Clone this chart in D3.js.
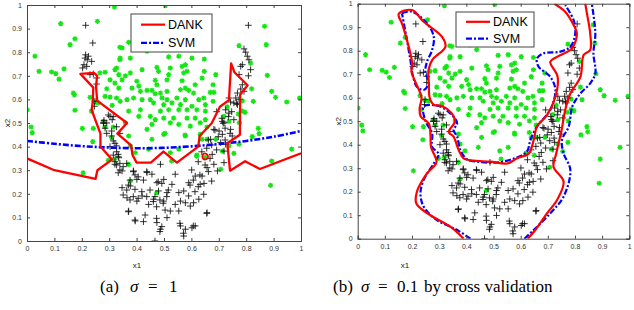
<!DOCTYPE html>
<html>
<head>
<meta charset="utf-8">
<script src="https://cdn.jsdelivr.net/npm/d3@7"></script>
<style>
  body { margin: 0; background: #fff; }
  svg { display: block; }
</style>
</head>
<body>
<div id="vis"></div>
<script>
// canvas size
var width = 634;
var height = 310;

// tick values for both axes
var tickVals = [0, 0.1, 0.2, 0.3, 0.4, 0.5, 0.6, 0.7, 0.8, 0.9, 1];

// class 1 (green asterisks)
var greenPts = [
  [0.505,0.997],[0.371,0.842],[0.347,0.818],[0.414,0.825],[0.438,0.804],[0.34,0.775],[0.377,0.775],[0.517,0.78],
  [0.554,0.783],[0.602,0.775],[0.647,0.771],[0.578,0.747],[0.566,0.74],[0.474,0.736],[0.48,0.719],[0.42,0.726],
  [0.377,0.712],[0.359,0.7],[0.335,0.705],[0.523,0.733],[0.517,0.705],[0.572,0.712],[0.584,0.719],[0.647,0.719],
  [0.639,0.69],[0.614,0.662],[0.566,0.679],[0.511,0.683],[0.468,0.681],[0.474,0.662],[0.401,0.677],[0.408,0.656],
  [0.383,0.648],[0.347,0.683],[0.414,0.634],[0.438,0.638],[0.456,0.638],[0.487,0.627],[0.468,0.624],[0.511,0.634],
  [0.56,0.641],[0.578,0.648],[0.59,0.638],[0.608,0.627],[0.669,0.63],[0.645,0.606],[0.627,0.599],[0.578,0.599],
  [0.547,0.606],[0.511,0.599],[0.493,0.606],[0.45,0.599],[0.42,0.599],[0.389,0.606],[0.365,0.599],[0.34,0.592],
  [0.335,0.648],[0.462,0.585],[0.499,0.578],[0.529,0.585],[0.56,0.578],[0.602,0.571],[0.651,0.578],[0.62,0.556],
  [0.651,0.55],[0.584,0.556],[0.554,0.556],[0.517,0.556],[0.487,0.55],[0.414,0.556],[0.371,0.55],[0.408,0.528],
  [0.45,0.528],[0.468,0.514],[0.499,0.521],[0.535,0.521],[0.584,0.521],[0.614,0.521],[0.651,0.514],
  [0.359,0.501],[0.456,0.494],[0.554,0.494],[0.632,0.501],[0.596,0.487],[0.523,0.501],[0.657,0.483],[0.371,0.445],
  [0.438,0.473],[0.499,0.452],[0.578,0.445],[0.632,0.452],[0.657,0.431],[0.377,0.403],[0.395,0.374],[0.444,0.389],
  [0.523,0.374],[0.554,0.389],[0.62,0.364],[0.639,0.431],[0.456,0.431],[0.377,0.254],[0.474,0.205],[0.371,0.325],
  [0.65,0.355],[0.619,0.36],[0.577,0.449],[0.504,0.456],[0.528,0.339],[0.775,0.501],
  [0.319,0.992],[0.123,0.921],[0.257,0.931],[0.175,0.857],[0.157,0.832],[0.339,0.821],[0.029,0.783],[0.044,0.719],
  [0.09,0.716],[0.105,0.709],[0.117,0.686],[0.135,0.729],[0.339,0.768],[0.327,0.733],[0.321,0.726],[0.285,0.715],
  [0.266,0.712],[0.303,0.683],[0.321,0.669],[0.169,0.627],[0.173,0.62],[0.291,0.645],[0.303,0.61],[0.285,0.613],
  [0.23,0.609],[0.248,0.589],[0.26,0.585],[0.311,0.575],[0.327,0.606],[0.001,0.556],[0.175,0.554],[0.279,0.507],
  [0.235,0.55],
  [0.015,0.483],[0.019,0.459],[0.202,0.477],[0.242,0.477],[0.24,0.421],[0.285,0.483],[0.315,0.483],[0.309,0.438],
  [0.297,0.342],[0.319,0.346],[0.205,0.289],
  [0.867,0.91],[0.774,0.828],[0.873,0.832],[0.816,0.754],[0.689,0.705],[0.877,0.702],[0.679,0.662],[0.682,0.63],
  [0.82,0.645],[0.893,0.634],[0.907,0.609],[0.948,0.589],[0.995,0.606],[0.826,0.592],[0.679,0.592],[0.786,0.594],
  [0.731,0.568],[0.786,0.55],[0.796,0.545],[0.771,0.538],[0.719,0.528],[0.737,0.507],
  [0.844,0.477],[0.847,0.455],[0.822,0.442],[0.774,0.41],[0.737,0.403],[0.755,0.371],[0.713,0.381],[0.707,0.304],
  [0.893,0.339],[0.966,0.389],[0.889,0.236],[0.689,0.431]
];

// class 2 (black plus)
var blackPts = [
  [0.214,0.914],[0.24,0.839],[0.214,0.789],[0.212,0.775],[0.22,0.768],[0.224,0.783],[0.236,0.761],[0.208,0.747],
  [0.218,0.74],[0.203,0.733],[0.242,0.708],[0.23,0.705],[0.254,0.691],[0.254,0.665],[0.248,0.592],[0.246,0.571],
  [0.281,0.511],[0.303,0.528],[0.311,0.514],[0.291,0.5],
  [0.297,0.534],[0.315,0.527],[0.279,0.499],[0.285,0.478],[0.327,0.484],[0.291,0.456],[0.309,0.445],[0.339,0.456],
  [0.321,0.414],[0.303,0.4],[0.327,0.378],[0.315,0.364],[0.333,0.357],[0.321,0.336],[0.339,0.329],[0.327,0.322],
  [0.351,0.315],[0.339,0.301],[0.364,0.329],[0.388,0.294],[0.394,0.28],[0.376,0.258],[0.406,0.272],[0.437,0.294],
  [0.425,0.258],[0.37,0.237],[0.364,0.216],[0.394,0.219],[0.419,0.209],[0.449,0.216],[0.351,0.195],[0.388,0.188],
  [0.376,0.174],[0.406,0.181],[0.437,0.188],[0.467,0.188],[0.485,0.174],[0.461,0.167],[0.497,0.16],[0.473,0.145],
  [0.37,0.124],[0.394,0.089],[0.431,0.11],[0.425,0.082],[0.473,0.096],[0.492,0.061],[0.485,0.04],[0.467,0.0],
  [0.504,0.131],[0.51,0.188],[0.516,0.216],[0.492,0.244],[0.479,0.251],
  [0.335,0.353],[0.389,0.297],[0.438,0.29],[0.456,0.283],[0.487,0.325],[0.541,0.283],[0.59,0.247],[0.614,0.275],
  [0.639,0.275],[0.657,0.311],[0.632,0.24],[0.59,0.191],[0.627,0.177],[0.608,0.162],[0.657,0.12],[0.56,0.169],
  [0.541,0.155],[0.578,0.162],[0.554,0.127],[0.511,0.099],[0.523,0.127],[0.474,0.078],[0.487,0.05],[0.56,0.064],
  [0.578,0.05],[0.614,0.064],[0.602,0.056],[0.572,0.021],[0.395,0.085],[0.371,0.127],[0.401,0.169],[0.444,0.155],
  [0.462,0.177],[0.42,0.191],[0.48,0.212],[0.499,0.169],[0.511,0.205],[0.572,0.212],[0.554,0.205],[0.596,0.148],
  [0.347,0.297],[0.347,0.226],[0.377,0.233],[0.365,0.183],[0.401,0.261],[0.474,0.247],[0.529,0.24],[0.499,0.261],
  [0.645,0.198],
  [0.692,0.548],[0.711,0.52],[0.686,0.47],[0.723,0.478],[0.741,0.456],[0.698,0.442],[0.723,0.428],[0.662,0.428],
  [0.674,0.407],[0.656,0.393],[0.692,0.386],[0.638,0.378],[0.668,0.35],[0.625,0.336],[0.65,0.322],[0.601,0.301],
  [0.662,0.294],[0.631,0.28],[0.607,0.258],[0.646,0.244],[0.625,0.23],[0.595,0.237],[0.613,0.209],[0.656,0.117],
  [0.607,0.064],[0.558,0.075],[0.571,0.033],[0.765,0.583],[0.747,0.548],[0.735,0.527],[0.716,0.499],
  [0.808,0.914],[0.792,0.814],[0.798,0.8],[0.804,0.783],[0.81,0.768],[0.786,0.747],[0.816,0.726],[0.78,0.74],
  [0.808,0.7],[0.774,0.705],[0.786,0.662],[0.78,0.644],[0.768,0.627],[0.792,0.634],[0.737,0.606],[0.774,0.599],
  [0.743,0.589],[0.755,0.585],[0.725,0.556],[0.737,0.542],[0.768,0.578],[0.713,0.507],[0.755,0.514],[0.762,0.606],
  [0.719,0.501],[0.682,0.473],[0.701,0.466],[0.743,0.473],[0.713,0.452],[0.749,0.445],[0.67,0.431],[0.707,0.417],
  [0.725,0.41],[0.719,0.381],[0.676,0.367],[0.682,0.325],[0.719,0.332],[0.695,0.297],[0.674,0.254],
  [0.279,0.501],[0.309,0.466],[0.315,0.424],[0.327,0.403],[0.333,0.367],[0.321,0.325],[0.333,0.289]
];

// (a) sigma = 1 boundaries
var dankA = [
  [0,0.35],[0.1,0.30],[0.25,0.263],[0.257,0.30],[0.31,0.345],[0.268,0.40],[0.268,0.455],[0.236,0.555],
  [0.24,0.59],[0.242,0.65],[0.195,0.708],[0.245,0.712],[0.256,0.70],[0.252,0.655],[0.256,0.595],[0.365,0.50],
  [0.33,0.455],[0.38,0.405],[0.385,0.365],[0.40,0.332],[0.452,0.332],[0.498,0.379],[0.547,0.332],[0.625,0.40],
  [0.63,0.445],[0.674,0.499],[0.704,0.569],[0.737,0.597],[0.745,0.753],[0.757,0.715],[0.805,0.66],[0.778,0.62],
  [0.777,0.45],[0.731,0.414],[0.741,0.298],[0.796,0.338],[0.85,0.305],[1,0.372]
];
var dankLoopA = [[0.64,0.36],[0.645,0.37],[0.658,0.366],[0.66,0.352],[0.65,0.345],[0.642,0.35],[0.64,0.36]];
var svmA = [[0,0.424],[0.1,0.412],[0.2,0.402],[0.3,0.396],[0.4,0.393],[0.5,0.395],[0.6,0.401],[0.7,0.411],
  [0.8,0.424],[0.9,0.442],[1,0.466]];

// (b) sigma = 0.1 boundaries
var dankB = [
  [[0.39,0],[0.341,0.051],[0.267,0.1],[0.216,0.15],[0.218,0.2],[0.255,0.278],[0.29,0.325],[0.27,0.39],[0.268,0.44],
   [0.262,0.49],[0.232,0.52],[0.228,0.555],[0.235,0.6],[0.215,0.66],[0.198,0.71],[0.2,0.75],[0.185,0.83],[0.165,0.91],
   [0.151,0.956],[0.2,0.973],[0.243,0.923],[0.31,0.86],[0.323,0.817],[0.274,0.76],[0.261,0.718],[0.262,0.66],
   [0.265,0.6],[0.28,0.57],[0.31,0.565],[0.345,0.535],[0.358,0.498],[0.335,0.455],[0.353,0.434],[0.372,0.377],
   [0.39,0.342],[0.427,0.332],[0.488,0.328],[0.55,0.32],[0.587,0.342],[0.63,0.363],[0.648,0.42],[0.66,0.477],
   [0.697,0.526],[0.728,0.604],[0.736,0.689],[0.709,0.753],[0.734,0.774],[0.789,0.81],[0.807,0.874],[0.795,0.909],
   [0.764,0.966],[0.724,1.0]],
  [[0.626,0],[0.654,0.037],[0.697,0.108],[0.734,0.165],[0.758,0.243],[0.721,0.306],[0.731,0.363],[0.752,0.47],
   [0.764,0.548],[0.783,0.618],[0.82,0.689],[0.832,0.782],[0.856,0.803],[0.856,0.874],[0.844,0.959],[0.838,1.0]]
];
var svmB = [
  [[0.163,0.959],[0.2,0.966],[0.255,0.916],[0.28,0.86],[0.274,0.803],[0.255,0.753],[0.249,0.711],[0.261,0.661],
   [0.243,0.633],[0.218,0.647],[0.204,0.689],[0.194,0.76],[0.179,0.86],[0.163,0.959]],
  [[0.415,0],[0.366,0.037],[0.292,0.079],[0.243,0.136],[0.231,0.193],[0.243,0.25],[0.28,0.32],[0.298,0.36],
   [0.274,0.391],[0.274,0.448],[0.25,0.5],[0.243,0.562],[0.298,0.565],[0.341,0.533],[0.366,0.491],[0.353,0.462],
   [0.366,0.434],[0.378,0.377],[0.402,0.338],[0.439,0.328],[0.519,0.325],[0.593,0.349],[0.623,0.37],[0.636,0.42],
   [0.66,0.477],[0.685,0.512],[0.709,0.548],[0.728,0.633],[0.709,0.689],[0.666,0.732],[0.66,0.767],[0.685,0.789],
   [0.746,0.796],[0.783,0.817],[0.801,0.874],[0.795,0.93],[0.764,0.994]],
  [[0.614,0],[0.648,0.037],[0.709,0.108],[0.758,0.179],[0.783,0.292],[0.758,0.363],[0.752,0.42],[0.777,0.477],
   [0.79,0.562],[0.82,0.618],[0.856,0.661],[0.875,0.704],[0.868,0.789],[0.875,0.874],[0.862,1.0]]
];

var svg = d3.select("#vis").append("svg")
  .attr("width", width)
  .attr("height", height);

var tickFmt = function(d){ return d === 0 || d === 1 ? String(d) : d3.format(".1f")(d); };

// draws one panel
function drawPanel(id, xr, yr, curves, x1pos, caption) {
  var x = d3.scaleLinear().domain([0, 1]).range(xr);
  var y = d3.scaleLinear().domain([0, 1]).range(yr);
  var g = svg.append("g");

  g.append("clipPath").attr("id", "clip" + id)
    .append("rect")
    .attr("x", xr[0]).attr("y", yr[1])
    .attr("width", xr[1] - xr[0]).attr("height", yr[0] - yr[1]);

  var plot = g.append("g").attr("clip-path", "url(#clip" + id + ")");

  // green asterisks
  var r = 2.6, a = r * 0.72;
  plot.selectAll(".g").data(greenPts).enter().append("path")
    .attr("transform", function(d){ return "translate(" + x(d[0]) + "," + y(d[1]) + ")"; })
    .attr("d", "M" + (-r) + ",0L" + r + ",0M0," + (-r) + "L0," + r +
               "M" + (-a) + "," + (-a) + "L" + a + "," + a + "M" + (-a) + "," + a + "L" + a + "," + (-a))
    .attr("stroke", "#14e614")
    .attr("stroke-width", 1.3)
    .attr("fill", "none");

  // black plus
  var p = 3.3;
  plot.selectAll(".b").data(blackPts).enter().append("path")
    .attr("transform", function(d){ return "translate(" + x(d[0]) + "," + y(d[1]) + ")"; })
    .attr("d", "M" + (-p) + ",0L" + p + ",0M0," + (-p) + "L0," + p)
    .attr("stroke", "#111")
    .attr("stroke-opacity", 0.85)
    .attr("stroke-width", 1);

  // decision boundaries
  curves.forEach(function(c){
    var line = d3.line().x(function(d){ return x(d[0]); }).y(function(d){ return y(d[1]); })
      .curve(c.smooth ? d3.curveCatmullRom.alpha(0.5) : d3.curveLinear);
    plot.append("path")
      .attr("d", line(c.pts))
      .attr("fill", "none")
      .attr("stroke", c.color)
      .attr("stroke-width", c.w)
      .attr("stroke-dasharray", c.dash || null)
      .attr("stroke-linejoin", "round");
  });

  // axes (matlab box, ticks inward)
  var tl = 3;
  g.append("g").attr("transform", "translate(0," + yr[0] + ")")
    .call(d3.axisBottom(x).tickValues(tickVals).tickSize(-tl).tickPadding(5).tickFormat(tickFmt));
  g.append("g").attr("transform", "translate(0," + yr[1] + ")")
    .call(d3.axisTop(x).tickValues(tickVals).tickSize(-tl).tickFormat(""));
  g.append("g").attr("transform", "translate(" + xr[0] + ",0)")
    .call(d3.axisLeft(y).tickValues(tickVals).tickSize(-tl).tickPadding(5).tickFormat(tickFmt));
  g.append("g").attr("transform", "translate(" + xr[1] + ",0)")
    .call(d3.axisRight(y).tickValues(tickVals).tickSize(-tl).tickFormat(""));

  g.selectAll(".domain").attr("stroke", "#444");
  g.selectAll(".tick line").attr("stroke", "#444");
  g.selectAll(".tick text")
    .attr("font-family", "Liberation Sans, Arial, sans-serif")
    .attr("font-size", 7)
    .attr("fill", "#333");

  // axis labels
  g.append("text")
    .attr("x", x1pos).attr("y", 268)
    .attr("text-anchor", "middle")
    .attr("font-family", "Liberation Sans, Arial, sans-serif")
    .attr("font-size", 8).attr("fill", "#222")
    .text("x1");
  g.append("text")
    .attr("transform", "translate(" + (xr[0] - 17) + "," + ((yr[0] + yr[1]) / 2) + ") rotate(-90)")
    .attr("text-anchor", "middle")
    .attr("font-family", "Liberation Sans, Arial, sans-serif")
    .attr("font-size", 8).attr("fill", "#222")
    .text("x2");

  // caption, pieces placed like latex math spacing
  var cap = g.append("text")
    .attr("y", 292)
    .attr("font-family", "Liberation Serif, Times New Roman, serif")
    .attr("font-size", 17).attr("fill", "#000");
  caption.forEach(function(c){
    cap.append("tspan")
      .attr("x", c.x)
      .attr("font-style", c.it ? "italic" : null)
      .text(c.t);
  });

  return {x: x, y: y, g: g};
}

function legend(panel, box) {
  var g = panel.g.append("g");
  g.append("rect")
    .attr("x", box.x).attr("y", box.y).attr("width", box.w).attr("height", box.h)
    .attr("fill", "#fff").attr("stroke", "#444").attr("stroke-width", 1);
  var items = [
    {name: "DANK", color: "#ff0000", dash: null},
    {name: "SVM", color: "#0000ff", dash: "6,2,2,2"}
  ];
  items.forEach(function(it, i){
    var yy = box.y + box.h * (i === 0 ? 0.28 : 0.76);
    g.append("line")
      .attr("x1", box.x + 10).attr("x2", box.x + 34)
      .attr("y1", yy).attr("y2", yy)
      .attr("stroke", it.color).attr("stroke-width", 2.2)
      .attr("stroke-dasharray", it.dash);
    g.append("text")
      .attr("x", box.x + 37).attr("y", yy + 4.5)
      .attr("font-family", "Liberation Sans, Arial, sans-serif")
      .attr("font-size", 12.5).attr("fill", "#000")
      .text(it.name);
  });
}

var curvesA = [
  {pts: svmA, color: "#0000ff", w: 2.6, dash: "6,2,2,2", smooth: true},
  {pts: dankA, color: "#ff0000", w: 2.3},
  {pts: dankLoopA, color: "#ff0000", w: 1.8, smooth: true}
];
var curvesB = [];
svmB.forEach(function(c){ curvesB.push({pts: c, color: "#0000ff", w: 2.2, dash: "6,2,2,2", smooth: true}); });
dankB.forEach(function(c){ curvesB.push({pts: c, color: "#ff0000", w: 2.2, smooth: true}); });

var capA = [{x: 100, t: "(a)"}, {x: 130, t: "σ", it: true}, {x: 148, t: "="}, {x: 169, t: "1"}];
var capB = [{x: 333, t: "(b)"}, {x: 361, t: "σ", it: true}, {x: 378, t: "="}, {x: 397, t: "0.1"},
            {x: 424, t: "by cross validation"}];

var pa = drawPanel("a", [27, 301], [241, 5], curvesA, 137, capA);
var pb = drawPanel("b", [357.7, 629.3], [238.7, 3.7], curvesB, 405, capB);

legend(pa, {x: 131, y: 14, w: 81, h: 38});
legend(pb, {x: 456, y: 12, w: 78, h: 35});
</script>
</body>
</html>
